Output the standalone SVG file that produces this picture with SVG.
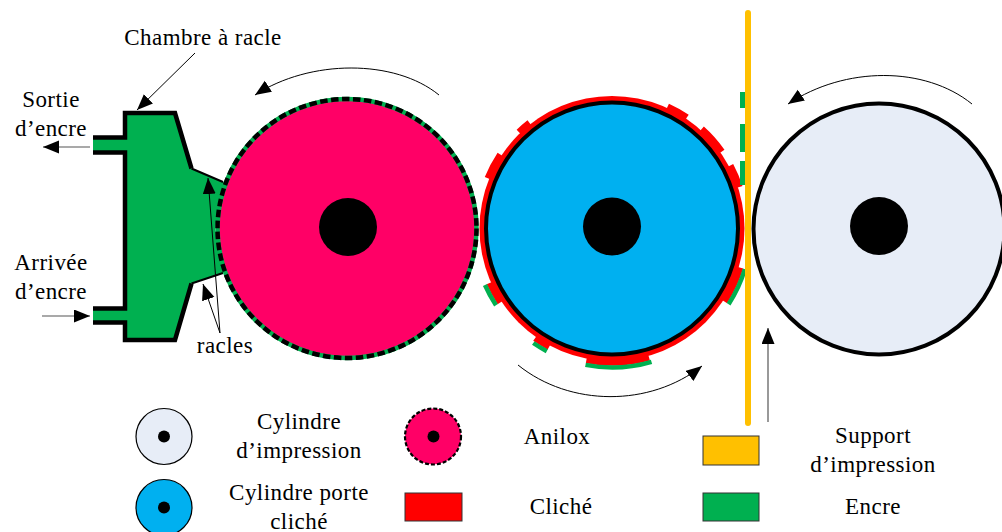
<svg xmlns="http://www.w3.org/2000/svg" width="1002" height="532" viewBox="0 0 1002 532">
<style>
text{font-family:"Liberation Serif","Times New Roman",serif;font-size:23px;letter-spacing:.45px;fill:#000;text-anchor:middle}
.hub{fill:#000}
.thin{fill:none;stroke:#000;stroke-width:1}
.gr{fill:none;stroke:#555;stroke-width:1.2}
.red{fill:none;stroke:#f00;stroke-width:6.5}
.ink{fill:none;stroke:#00b050;stroke-width:4.5}
.ol{fill:none;stroke:#000;stroke-width:4.5;stroke-linejoin:miter}
.tip{fill:#000;stroke:none}
</style>
<defs>
<marker id="a" markerUnits="userSpaceOnUse" markerWidth="18" markerHeight="14" refX="16" refY="6.5" orient="auto"><path class="tip" d="M0 0L16 6.5L0 13Z"/></marker>
</defs>
<g id="chambre">
<path d="M93 137.5H125V113H175L191.5 168.5L224 182L215 228L224 273L191.5 283.5L175 340H125V322.5H93V308.5H125V152.5H93Z" fill="#00b050"/>
<path class="ol" d="M93 137.5H125V113H175L191.5 168.5"/>
<path class="ol" d="M93 152.5H125V308.5H93"/>
<path class="ol" d="M93 322.5H125V340H175L191.5 283.5"/>
<path fill="none" stroke="#000" stroke-width="2" d="M191.5 168.5L223 182M191.5 283.5L223 273"/>
</g>
<g id="anilox">
<circle cx="347" cy="228.5" r="129.5" fill="#ff0066" stroke="#00b050" stroke-width="4.5"/>
<circle cx="347" cy="228.5" r="129.5" fill="none" stroke="#000" stroke-width="4.5" stroke-dasharray="7.5 3.5"/>
<circle class="hub" cx="348" cy="227" r="29"/>
</g>
<g id="porte-cliche">
<circle cx="612" cy="228.5" r="132.5" fill="#f00"/>
<path class="red" d="M667.6 106.6A134 134 0 0 1 686.9 117.4"/>
<path class="red" d="M701.7 129A134 134 0 0 1 721.8 151.6"/>
<path class="red" d="M730.3 165.6A134 134 0 0 1 739.4 187.1"/>
<path class="red" d="M518.9 132.1A134 134 0 0 1 529.5 122.9"/>
<path class="red" d="M487.8 178.3A134 134 0 0 1 500.3 154.5"/>
<path class="red" d="M740.1 267.6A134 134 0 0 1 724.4 301.5"/>
<path class="red" d="M500.3 302.5A134 134 0 0 1 489.6 283"/>
<path class="red" d="M549.1 346.8A134 134 0 0 1 535.1 338.2"/>
<path class="red" d="M649 357.3A134 134 0 0 1 586.4 360"/>
<path class="ink" d="M744.9 269.1A139 139 0 0 1 728.6 304.2"/>
<path class="ink" d="M496 305.2A139 139 0 0 1 485 285"/>
<path class="ink" d="M546.8 351.2A139 139 0 0 1 533.3 343"/>
<path class="ink" d="M651.5 361.8A139 139 0 0 1 585.5 364.9"/>
<circle cx="612" cy="228.5" r="126" fill="#00b0f0" stroke="#000" stroke-width="4"/>
<circle class="hub" cx="612" cy="226.5" r="29"/>
</g>
<g id="support">
<path d="M742.5 92V108M742.5 124V152M742.5 161V185" fill="none" stroke="#00b050" stroke-width="5"/>
<path d="M748 13V423" fill="none" stroke="#ffc000" stroke-width="6" stroke-linecap="round"/>
</g>
<g id="impression">
<circle cx="879" cy="229" r="125.5" fill="#e7edf7" stroke="#000" stroke-width="4"/>
<circle class="hub" cx="879" cy="226" r="29"/>
</g>
<g id="connecteurs">
<path class="thin" marker-end="url(#a)" d="M439 95C395 59 310 59 255 95"/>
<path class="thin" marker-end="url(#a)" d="M518 365C570 407 650 407 702 366"/>
<path class="thin" marker-end="url(#a)" d="M972 104C925 66 845 66 788 104"/>
<path class="gr" marker-end="url(#a)" d="M768 422V328"/>
<path class="gr" marker-end="url(#a)" d="M90 147H43"/>
<path class="gr" marker-end="url(#a)" d="M42 316H90"/>
<path class="thin" marker-end="url(#a)" d="M195 53L137 110"/>
<path class="thin" marker-end="url(#a)" d="M220 333L208 178"/>
<path class="thin" marker-end="url(#a)" d="M220 333L203 284"/>
</g>
<g id="labels">
<text x="203" y="45">Chambre à racle</text>
<text x="51" y="107">Sortie</text>
<text x="51" y="136">d’encre</text>
<text x="51" y="270">Arrivée</text>
<text x="51" y="299">d’encre</text>
<text x="225" y="353">racles</text>
</g>
<g id="legende-impression">
<circle cx="164" cy="436.5" r="28" fill="#e7edf7" stroke="#000" stroke-width="1.2"/>
<circle class="hub" cx="164" cy="436.5" r="6"/>
<text x="299" y="429">Cylindre</text>
<text x="299" y="458">d’impression</text>
</g>
<g id="legende-porte-cliche">
<circle cx="164" cy="507.5" r="28" fill="#00b0f0" stroke="#000" stroke-width="1.2"/>
<circle class="hub" cx="164" cy="507.5" r="6"/>
<text x="299" y="500">Cylindre porte</text>
<text x="299" y="529">cliché</text>
</g>
<g id="legende-anilox">
<circle cx="433" cy="436.5" r="28" fill="#ff0066" stroke="#000" stroke-width="2.2" stroke-dasharray="4 2"/>
<circle class="hub" cx="433.5" cy="436.5" r="6"/>
<text x="557" y="444">Anilox</text>
</g>
<g id="legende-cliche">
<rect x="405" y="493" width="57" height="28" fill="#f00" stroke="#333"/>
<text x="561" y="514">Cliché</text>
</g>
<g id="legende-support">
<rect x="703" y="436" width="56" height="29" fill="#ffc000" stroke="#333"/>
<text x="873" y="443">Support</text>
<text x="873" y="472">d’impression</text>
</g>
<g id="legende-encre">
<rect x="703" y="493" width="56" height="28" fill="#00b050" stroke="#333"/>
<text x="873" y="514">Encre</text>
</g>
</svg>
